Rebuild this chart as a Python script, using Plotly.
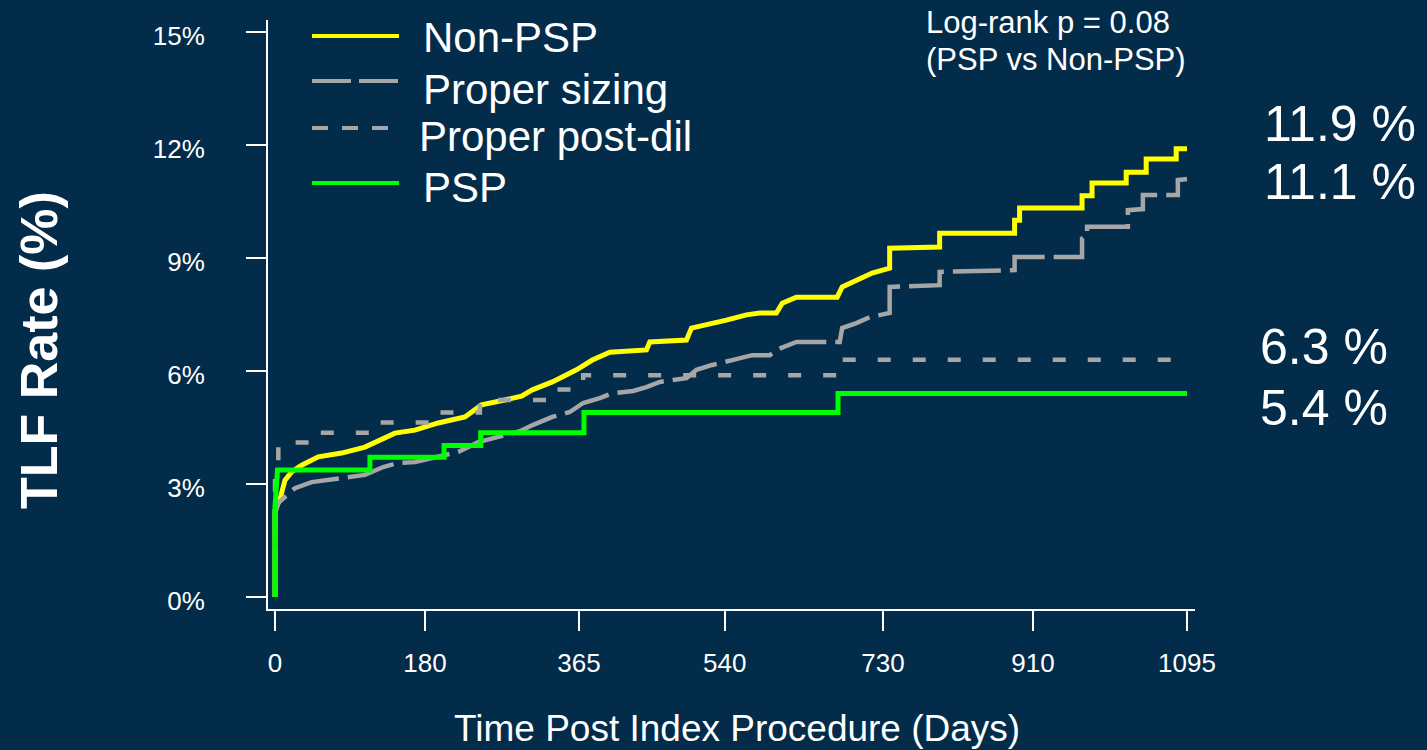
import plotly.graph_objects as go

# ---- data: cumulative TLF rate (%) by day after the index procedure ----
non_psp_days = [0, 0, 6, 12, 20, 32, 52, 80, 108, 128, 144, 168, 196, 228, 248, 276, 296, 309,
                333, 362, 381, 402, 446, 450, 494, 500, 518, 542, 566, 582, 602, 609, 626, 675,
                681, 698, 717, 738, 738, 798, 798, 888, 888, 894, 894, 969, 969, 981, 981, 1022,
                1022, 1046, 1046, 1082, 1082, 1095]
non_psp_rate = [0, 2.3, 2.6, 3.1, 3.32, 3.5, 3.72, 3.82, 3.98, 4.17, 4.35, 4.43, 4.62, 4.78, 5.1,
                5.23, 5.33, 5.5, 5.71, 6.03, 6.29, 6.5, 6.56, 6.77, 6.82, 7.14, 7.22, 7.35, 7.49,
                7.54, 7.54, 7.8, 7.96, 7.96, 8.23, 8.42, 8.6, 8.73, 9.26, 9.29, 9.66, 9.66, 10.0,
                10.0, 10.33, 10.33, 10.65, 10.65, 10.99, 10.99, 11.28, 11.28, 11.63, 11.63, 11.9, 11.9]

sizing_days = [0, 0, 4, 12, 24, 44, 76, 108, 130, 148, 168, 196, 220, 244, 267, 294, 310, 333,
               354, 370, 390, 405, 430, 446, 462, 494, 506, 525, 549, 573, 594, 602, 626, 678,
               681, 698, 714, 738, 738, 798, 798, 888, 888, 969, 969, 975, 975, 1024, 1024,
               1042, 1042, 1084, 1084, 1095]
sizing_rate = [0, 2.2, 2.5, 2.65, 2.89, 3.05, 3.16, 3.24, 3.45, 3.56, 3.58, 3.72, 3.85, 4.11, 4.25,
               4.4, 4.57, 4.78, 4.91, 5.15, 5.28, 5.41, 5.47, 5.57, 5.71, 5.81, 6.03, 6.16, 6.29,
               6.42, 6.42, 6.56, 6.77, 6.77, 7.14, 7.27, 7.43, 7.54, 8.23, 8.28, 8.63, 8.68, 9.03,
               9.03, 9.52, 9.6, 9.83, 9.83, 10.27, 10.3, 10.67, 10.67, 11.07, 11.1]

postdil_days = [0, 0, 4, 4, 55, 55, 125, 125, 195, 195, 246, 246, 336, 336, 370, 370, 675, 675, 1095]
postdil_rate = [0, 3.3, 3.3, 4.1, 4.1, 4.36, 4.36, 4.63, 4.63, 4.9, 4.9, 5.23, 5.23, 5.51, 5.51,
                5.89, 5.89, 6.3, 6.3]

psp_days = [0, 0, 3, 114, 114, 203, 203, 247, 247, 371, 371, 676, 676, 1095]
psp_rate = [0, 2.4, 3.37, 3.37, 3.71, 3.71, 4.02, 4.02, 4.36, 4.36, 4.9, 4.9, 5.4, 5.4]

series_names = ["Non-PSP", "Proper sizing", "Proper post-dil", "PSP"]
x_ticks = [0, 180, 365, 540, 730, 910, 1095]
y_ticks = [0, 3, 6, 9, 12, 15]

BG = "#022c49"
YELLOW = "#ffff00"
GRAY = "#a6a6a6"
GREEN = "#00ff00"
FONT = "Liberation Sans, Arial, sans-serif"

# plot-area pixel frame, used to place annotations/legend in paper units
L, R, T, B = 268, 1195, 20, 609


def px(x):
    return (x - L) / (R - L)


def py(y):
    return (B - y) / (B - T)


styles = {
    "Non-PSP": dict(color=YELLOW, width=5, dash="solid"),
    "Proper sizing": dict(color=GRAY, width=4.5, dash="48px,9px"),
    "Proper post-dil": dict(color=GRAY, width=4.5, dash="13px,22px"),
    "PSP": dict(color=GREEN, width=5, dash="solid"),
}
legend_dash = {"Non-PSP": "solid", "Proper sizing": "39px,8px",
               "Proper post-dil": "16px,14px", "PSP": "solid"}
curves = {
    "Non-PSP": (non_psp_days, non_psp_rate),
    "Proper sizing": (sizing_days, sizing_rate),
    "Proper post-dil": (postdil_days, postdil_rate),
    "PSP": (psp_days, psp_rate),
}

fig = go.Figure()
for name in series_names:
    d, r = curves[name]
    fig.add_trace(go.Scatter(x=d, y=r, mode="lines", name=name, line=styles[name],
                             showlegend=False, hoverinfo="x+y+name"))

annotations = []
shapes = []

# legend drawn as long line samples with large labels
legend_rows = [  # (name, line y px, text y px, text x px)
    ("Non-PSP", 36, 37, 421),
    ("Proper sizing", 81, 89, 421),
    ("Proper post-dil", 128, 136, 417),
    ("PSP", 183, 187, 421),
]
for name, ly, ty, tx in legend_rows:
    shapes.append(dict(type="line", xref="paper", yref="paper",
                       x0=px(312), x1=px(399), y0=py(ly), y1=py(ly),
                       line=dict(color=styles[name]["color"], width=4, dash=legend_dash[name])))
    annotations.append(dict(text=name, xref="paper", yref="paper", x=px(tx), y=py(ty),
                            xanchor="left", yanchor="middle", showarrow=False,
                            font=dict(family=FONT, size=42, color="white")))

# end-of-follow-up rates
end_labels = [
    (non_psp_rate[-1], 1262, 124),
    (sizing_rate[-1], 1262, 182),
    (postdil_rate[-1], 1258, 347),
    (psp_rate[-1], 1258, 408),
]
for val, x, y in end_labels:
    annotations.append(dict(text=f"{val:.1f} %", xref="paper", yref="paper", x=px(x), y=py(y),
                            xanchor="left", yanchor="middle", showarrow=False,
                            font=dict(family=FONT, size=50, color="white")))

# log-rank test note
annotations.append(dict(text="Log-rank p = 0.08", xref="paper", yref="paper", x=px(924), y=py(22),
                        xanchor="left", yanchor="middle", showarrow=False,
                        font=dict(family=FONT, size=31, color="white")))
annotations.append(dict(text="(PSP vs Non-PSP)", xref="paper", yref="paper", x=px(924), y=py(60),
                        xanchor="left", yanchor="middle", showarrow=False,
                        font=dict(family=FONT, size=31, color="white")))

# axis titles
annotations.append(dict(text="<b>TLF Rate (%)</b>", xref="paper", yref="paper", x=px(39), y=py(350),
                        xanchor="center", yanchor="middle", textangle=-90, showarrow=False,
                        font=dict(family=FONT, size=52, color="white")))
annotations.append(dict(text="Time Post Index Procedure (Days)", xref="paper", yref="paper",
                        x=px(737), y=py(728), xanchor="center", yanchor="middle", showarrow=False,
                        font=dict(family=FONT, size=37, color="white")))

fig.update_layout(
    width=1427, height=750,
    margin=dict(l=L, r=1427 - R, t=T, b=750 - B, pad=0),
    paper_bgcolor=BG, plot_bgcolor=BG,
    font=dict(family=FONT, color="white"),
    shapes=shapes, annotations=annotations,
    showlegend=False,
)
fig.update_xaxes(
    range=[-8.4, 1104.6], tickvals=x_ticks, ticktext=[str(t) for t in x_ticks],
    showgrid=False, zeroline=False, showline=True, linecolor="white", linewidth=2,
    ticks="outside", ticklen=20, tickwidth=2, tickcolor="white",
    tickfont=dict(family=FONT, size=26, color="white"), ticklabelstandoff=10,
)
fig.update_yaxes(
    range=[-0.32, 15.32], tickvals=y_ticks, ticktext=[f"{t}%" for t in y_ticks],
    showgrid=False, zeroline=False, showline=True, linecolor="white", linewidth=2,
    ticks="outside", ticklen=20, tickwidth=2, tickcolor="white",
    tickfont=dict(family=FONT, size=26, color="white"), ticklabelstandoff=36,
    ticklabelshift=4,
)

fig.write_html("out.html")
